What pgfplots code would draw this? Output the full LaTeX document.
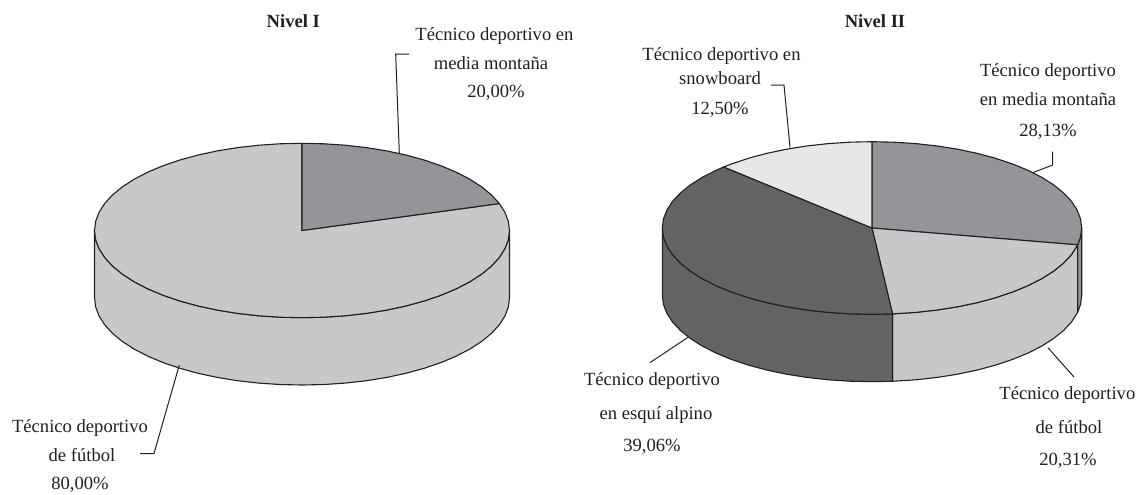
\documentclass[border=0pt]{standalone}
\usepackage{fontspec}
\setmainfont{Liberation Serif}
\usepackage{pgfplots}
\pgfplotsset{compat=1.18}
\definecolor{inkc}{HTML}{231F20}
\definecolor{gA}{HTML}{939598}
\definecolor{gB}{HTML}{C7C8CA}
\definecolor{gC}{HTML}{636466}
\definecolor{gD}{HTML}{E6E7E8}
\pgfplotsset{pie/.style={hide axis,clip=false,xmin=-1,xmax=1,ymin=-1.8,ymax=1,anchor=south west},
 sl/.style={draw=inkc,line width=0.55pt,line join=round},
 ld/.style={draw=inkc,solid,line width=0.5pt,line join=miter,mark=none,sharp plot}}
\newcommand{\lab}[3]{\node[anchor=base,inner sep=0pt,text=inkc,font=\fontsize{9.3pt}{11pt}\selectfont] at (axis cs:#1,#2) {#3};}
\begin{document}
\begin{tikzpicture}
\path[use as bounding box] (0,0) rectangle (568pt,247pt);
% Nivel I : 80,00 / 20,00
\begin{axis}[pie,at={(47.25pt,53.27pt)},x=103.75pt,y=43.6pt]
\addplot[sl,fill=gB] coordinates {(1,0)(.9945,-.1045)(.9781,-.2079)(.9511,-.3090)(.9135,-.4067)(.8660,-.5)(.8090,-.5878)(.7431,-.6691)(.6691,-.7431)(.5878,-.8090)(.5,-.8660)(.4067,-.9135)(.3090,-.9511)(.2079,-.9781)(.1045,-.9945)(0,-1)(-.1045,-.9945)(-.2079,-.9781)(-.3090,-.9511)(-.4067,-.9135)(-.5,-.8660)(-.5878,-.8090)(-.6691,-.7431)(-.7431,-.6691)(-.8090,-.5878)(-.8660,-.5)(-.9135,-.4067)(-.9511,-.3090)(-.9781,-.2079)(-.9945,-.1045)(-1,0)
(-1,-.772)(-.9945,-.8765)(-.9781,-.9799)(-.9511,-1.0810)(-.9135,-1.1787)(-.8660,-1.2720)(-.8090,-1.3598)(-.7431,-1.4411)(-.6691,-1.5151)(-.5878,-1.5810)(-.5,-1.6380)(-.4067,-1.6855)(-.3090,-1.7231)(-.2079,-1.7501)(-.1045,-1.7665)(0,-1.772)(.1045,-1.7665)(.2079,-1.7501)(.3090,-1.7231)(.4067,-1.6855)(.5,-1.6380)(.5878,-1.5810)(.6691,-1.5151)(.7431,-1.4411)(.8090,-1.3598)(.8660,-1.2720)(.9135,-1.1787)(.9511,-1.0810)(.9781,-.9799)(.9945,-.8765)(1,-.772)} --cycle;
\addplot[sl,fill=gB] coordinates {(0,0)(.9511,.3090)(.9781,.2079)(.9945,.1045)(1,0)(.9945,-.1045)(.9781,-.2079)(.9511,-.3090)(.9135,-.4067)(.8660,-.5)(.8090,-.5878)(.7431,-.6691)(.6691,-.7431)(.5878,-.8090)(.5,-.8660)(.4067,-.9135)(.3090,-.9511)(.2079,-.9781)(.1045,-.9945)(0,-1)(-.1045,-.9945)(-.2079,-.9781)(-.3090,-.9511)(-.4067,-.9135)(-.5,-.8660)(-.5878,-.8090)(-.6691,-.7431)(-.7431,-.6691)(-.8090,-.5878)(-.8660,-.5)(-.9135,-.4067)(-.9511,-.3090)(-.9781,-.2079)(-.9945,-.1045)(-1,0)(-.9945,.1045)(-.9781,.2079)(-.9511,.3090)(-.9135,.4067)(-.8660,.5)(-.8090,.5878)(-.7431,.6691)(-.6691,.7431)(-.5878,.8090)(-.5,.8660)(-.4067,.9135)(-.3090,.9511)(-.2079,.9781)(-.1045,.9945)(0,1)} --cycle;
\addplot[sl,fill=gA] coordinates {(0,0)(0,1)(.1045,.9945)(.2079,.9781)(.3090,.9511)(.4067,.9135)(.5,.8660)(.5878,.8090)(.6691,.7431)(.7431,.6691)(.8090,.5878)(.8660,.5)(.9135,.4067)(.9511,.3090)} --cycle;
\end{axis}
% Nivel II : 28,13 / 20,31 / 39,06 / 12,50
\begin{axis}[pie,at={(331.15pt,55.33pt)},x=104.85pt,y=43.15pt]
% walls
\addplot[sl,fill=gA] coordinates {(1,0)(.9945,-.1045)(.9807,-.1954)(.9807,-.9764)(.9945,-.8855)(1,-.781)} --cycle;
\addplot[sl,fill=gB] coordinates {(.9807,-.1954)(.9511,-.3090)(.9135,-.4067)(.8660,-.5)(.8090,-.5878)(.7431,-.6691)(.6691,-.7431)(.5878,-.8090)(.5,-.8660)(.4067,-.9135)(.3090,-.9511)(.2079,-.9781)(.0979,-.9952)(.0979,-1.7762)(.2079,-1.7591)(.3090,-1.7321)(.4067,-1.6945)(.5,-1.6470)(.5878,-1.5900)(.6691,-1.5241)(.7431,-1.4501)(.8090,-1.3688)(.8660,-1.2810)(.9135,-1.1877)(.9511,-1.0900)(.9807,-.9764)} --cycle;
\addplot[sl,fill=gC] coordinates {(.0979,-.9952)(0,-1)(-.1045,-.9945)(-.2079,-.9781)(-.3090,-.9511)(-.4067,-.9135)(-.5,-.8660)(-.5878,-.8090)(-.6691,-.7431)(-.7431,-.6691)(-.8090,-.5878)(-.8660,-.5)(-.9135,-.4067)(-.9511,-.3090)(-.9781,-.2079)(-.9945,-.1045)(-1,0)(-1,-.781)(-.9945,-.8855)(-.9781,-.9889)(-.9511,-1.0900)(-.9135,-1.1877)(-.8660,-1.2810)(-.8090,-1.3688)(-.7431,-1.4501)(-.6691,-1.5241)(-.5878,-1.5900)(-.5,-1.6470)(-.4067,-1.6945)(-.3090,-1.7321)(-.2079,-1.7591)(-.1045,-1.7755)(0,-1.781)(.0979,-1.7762)} --cycle;
% top
\addplot[sl,fill=gA] coordinates {(0,0)(0,1)(.1045,.9945)(.2079,.9781)(.3090,.9511)(.4067,.9135)(.5,.8660)(.5878,.8090)(.6691,.7431)(.7431,.6691)(.8090,.5878)(.8660,.5)(.9135,.4067)(.9511,.3090)(.9781,.2079)(.9945,.1045)(1,0)(.9945,-.1045)(.9807,-.1954)} --cycle;
\addplot[sl,fill=gB] coordinates {(0,0)(.9807,-.1954)(.9511,-.3090)(.9135,-.4067)(.8660,-.5)(.8090,-.5878)(.7431,-.6691)(.6691,-.7431)(.5878,-.8090)(.5,-.8660)(.4067,-.9135)(.3090,-.9511)(.2079,-.9781)(.0979,-.9952)} --cycle;
\addplot[sl,fill=gC] coordinates {(0,0)(.0979,-.9952)(0,-1)(-.1045,-.9945)(-.2079,-.9781)(-.3090,-.9511)(-.4067,-.9135)(-.5,-.8660)(-.5878,-.8090)(-.6691,-.7431)(-.7431,-.6691)(-.8090,-.5878)(-.8660,-.5)(-.9135,-.4067)(-.9511,-.3090)(-.9781,-.2079)(-.9945,-.1045)(-1,0)(-.9945,.1045)(-.9781,.2079)(-.9511,.3090)(-.9135,.4067)(-.8660,.5)(-.8090,.5878)(-.7431,.6691)(-.7071,.7071)} --cycle;
\addplot[sl,fill=gD] coordinates {(0,0)(-.7071,.7071)(-.6691,.7431)(-.5878,.8090)(-.5,.8660)(-.4067,.9135)(-.3090,.9511)(-.2079,.9781)(-.1045,.9945)(0,1)} --cycle;
\end{axis}
% labels and leaders, in picture pixels
\begin{axis}[hide axis,clip=false,at={(0pt,0pt)},anchor=south west,x=0.5pt,y=0.5pt,xmin=0,xmax=1136,ymin=0,ymax=494,y dir=reverse]
\addplot[ld] coordinates {(409,54)(395.7,54)(399.3,153)};
\addplot[ld] coordinates {(140,453.5)(154,453.5)(179.3,365)};
\addplot[ld] coordinates {(771,85)(784,85)(790,147.3)};
\addplot[ld] coordinates {(1052.7,151.7)(1052.7,165)(1032.7,172.7)};
\addplot[ld] coordinates {(1048,347.8)(1074,377)};
\addplot[ld] coordinates {(687.8,337.4)(650,362.6)};
\node[anchor=base,inner sep=0pt,text=inkc,font=\fontsize{9.3pt}{11pt}\selectfont\bfseries] at (axis cs:293.3,27.3) {Nivel I};
\node[anchor=base,inner sep=0pt,text=inkc,font=\fontsize{9.3pt}{11pt}\selectfont\bfseries] at (axis cs:875,27.3) {Nivel II};
\lab{494.5}{40.7}{Técnico deportivo en}
\lab{491}{69}{media montaña}
\lab{496}{97}{20,00\%}
\lab{721.5}{60}{Técnico deportivo en}
\lab{720}{84}{snowboard}
\lab{720}{114}{12,50\%}
\lab{1048}{76}{Técnico deportivo}
\lab{1048}{105.7}{en media montaña}
\lab{1048}{136}{28,13\%}
\lab{1067.4}{399.6}{Técnico deportivo}
\lab{1069}{433}{de fútbol}
\lab{1068}{465}{20,31\%}
\lab{652}{385.6}{Técnico deportivo}
\lab{656}{419}{en esquí alpino}
\lab{652}{451}{39,06\%}
\lab{80}{432.3}{Técnico deportivo}
\lab{82}{461.7}{de fútbol}
\lab{80}{489.3}{80,00\%}
\end{axis}
\end{tikzpicture}
\end{document}
